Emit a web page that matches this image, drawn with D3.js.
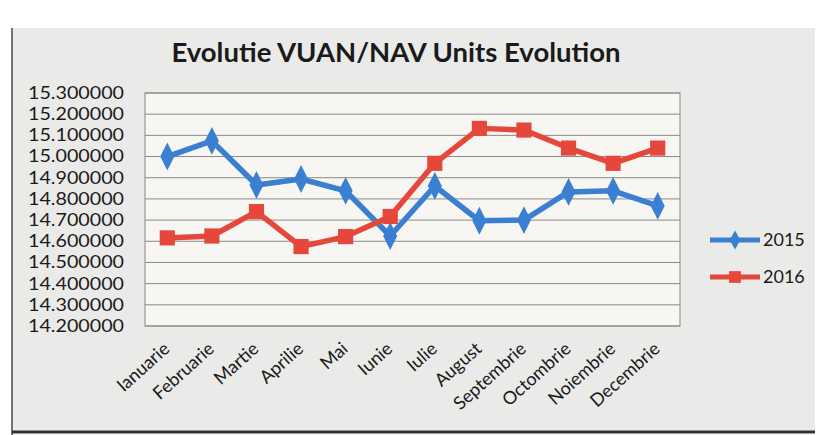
<!DOCTYPE html>
<html>
<head>
<meta charset="utf-8">
<script src="https://cdn.jsdelivr.net/npm/d3@7"></script>
<style>
	body { margin: 0; background: #fff; }
	svg { display: block; }
</style>
</head>
<body>
<div id="chart"></div>
<script>
// Chart data
const months = ["Ianuarie", "Februarie", "Martie", "Aprilie", "Mai", "Iunie",
	"Iulie", "August", "Septembrie", "Octombrie", "Noiembrie", "Decembrie"];
const values2015 = [15.000, 15.074, 14.866, 14.894, 14.838, 14.625,
	14.861, 14.697, 14.700, 14.833, 14.838, 14.767];
const values2016 = [14.616, 14.625, 14.740, 14.575, 14.622, 14.717,
	14.968, 15.133, 15.125, 15.040, 14.968, 15.040];
const yTicks = [14.2, 14.3, 14.4, 14.5, 14.6, 14.7, 14.8, 14.9, 15.0, 15.1, 15.2, 15.3];
const seriesNames = ["2015", "2016"];

const WIDTH = 829;
const HEIGHT = 435;
const MARGIN = { top: 93, right: 149, bottom: 109, left: 145 };
const FONT = "Lato, 'Open Sans', sans-serif";

const innerW = WIDTH - MARGIN.left - MARGIN.right;
const innerH = HEIGHT - MARGIN.top - MARGIN.bottom;

const svg = d3.select("#chart").append("svg")
	.attr("width", WIDTH)
	.attr("height", HEIGHT);

// scanned page background
svg.append("rect")
	.attr("width", WIDTH)
	.attr("height", HEIGHT)
	.attr("fill", "#ffffff");
svg.append("rect")
	.attr("x", 13)
	.attr("y", 28)
	.attr("width", 802)
	.attr("height", 403)
	.attr("fill", "#eaeae8");
svg.append("line")
	.attr("x1", 12).attr("x2", 12)
	.attr("y1", 28).attr("y2", HEIGHT)
	.attr("stroke", "#444").attr("stroke-width", 1.5);
svg.append("line")
	.attr("x1", 12).attr("x2", 815)
	.attr("y1", 432).attr("y2", 432)
	.attr("stroke", "#333").attr("stroke-width", 3);

svg.append("text")
	.attr("x", 396)
	.attr("y", 62)
	.attr("text-anchor", "middle")
	.style("font-family", FONT)
	.style("font-weight", "bold")
	.style("font-size", "27.5px")
	.style("fill", "#1a1a1a")
	.text("Evolutie VUAN/NAV Units Evolution");

const g = svg.append("g")
	.attr("transform", `translate(${MARGIN.left}, ${MARGIN.top})`);

const X_SCALE = d3.scaleBand()
	.domain(months)
	.range([0, innerW]);

const Y_SCALE = d3.scaleLinear()
	.domain([14.2, 15.3])
	.range([innerH, 0]);

// plot area
g.append("rect")
	.attr("width", innerW)
	.attr("height", innerH)
	.attr("fill", "#f7f6f3")
	.attr("stroke", "#888")
	.attr("stroke-width", 1);

// gridlines
g.append("g")
	.selectAll("line")
	.data(yTicks)
	.join("line")
	.attr("x1", 0)
	.attr("x2", innerW)
	.attr("y1", (d) => Y_SCALE(d))
	.attr("y2", (d) => Y_SCALE(d))
	.attr("stroke", "#8a8a8a")
	.attr("stroke-width", 1);

// wide, tightly packed tick labels as in the scan
const yAxis = g.append("g")
	.call(d3.axisLeft(Y_SCALE).tickValues(yTicks).tickFormat(d3.format(".6f")).tickSize(0).tickPadding(21))
	.style("font-family", FONT)
	.style("font-size", "17px");
yAxis.select(".domain").remove();
yAxis.selectAll("text")
	.attr("fill", "#1a1a1a")
	.attr("textLength", 96)
	.attr("lengthAdjust", "spacingAndGlyphs");

const xAxis = g.append("g")
	.attr("transform", `translate(0, ${innerH})`)
	.call(d3.axisBottom(X_SCALE).tickSize(0).tickPadding(0))
	.style("font-family", FONT)
	.style("font-size", "18px");
xAxis.select(".domain").remove();
xAxis.selectAll("text")
	.attr("fill", "#1a1a1a")
	.attr("text-anchor", "end")
	.attr("dy", "0.7em")
	.attr("transform", "translate(-5, 15) rotate(-42)");

const cx = (i) => X_SCALE(months[i]) + X_SCALE.bandwidth() / 2;
const line = d3.line()
	.x((d, i) => cx(i))
	.y((d) => Y_SCALE(d));

const series = [
	{ name: seriesNames[0], values: values2015, color: "#3a7fd1", marker: d3.symbolDiamond, size: 170 },
	{ name: seriesNames[1], values: values2016, color: "#e5473b", marker: d3.symbolSquare, size: 230 },
];

series.forEach((s) => {
	g.append("path")
		.datum(s.values)
		.attr("d", line)
		.attr("fill", "none")
		.attr("stroke", s.color)
		.attr("stroke-width", 5.5)
		.attr("stroke-linejoin", "round");
	g.append("g")
		.selectAll("path")
		.data(s.values)
		.join("path")
		.attr("transform", (d, i) => `translate(${cx(i)}, ${Y_SCALE(d)}) scale(1, ${s.name === "2015" ? 1.15 : 1})`)
		.attr("d", d3.symbol().type(s.marker).size(s.size))
		.attr("fill", s.color);
});

// legend
const legend = svg.append("g")
	.attr("transform", "translate(710, 240)");
series.forEach((s, i) => {
	const row = legend.append("g").attr("transform", `translate(0, ${i * 37})`);
	row.append("line")
		.attr("x1", 0).attr("x2", 50)
		.attr("stroke", s.color)
		.attr("stroke-width", 5);
	row.append("path")
		.attr("transform", "translate(25, 0)")
		.attr("d", d3.symbol().type(s.marker).size(s.size * 0.6))
		.attr("fill", s.color);
	row.append("text")
		.attr("x", 53)
		.attr("dy", "0.35em")
		.style("font-family", FONT)
		.style("font-size", "18px")
		.attr("fill", "#1a1a1a")
		.text(s.name);
});
</script>
</body>
</html>
